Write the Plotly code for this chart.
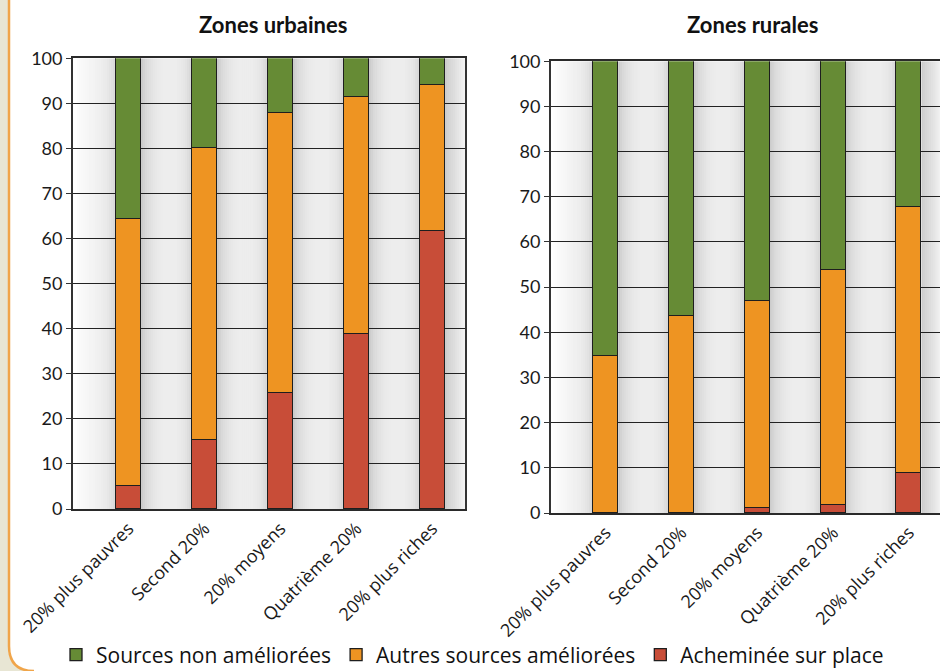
import plotly.graph_objects as go
import math

W, H = 940, 671

categories = ["20% plus pauvres", "Second 20%", "20% moyens", "Quatrième 20%", "20% plus riches"]

# Zones urbaines
urb_piped = [5, 15.3, 25.7, 38.8, 61.7]
urb_other = [59.3, 64.7, 62.2, 52.6, 32.4]
urb_unimproved = [35.7, 20.0, 12.1, 8.6, 5.9]

# Zones rurales
rur_piped = [0, 0, 1.1, 1.7, 8.7]
rur_other = [34.8, 43.6, 45.8, 52.1, 58.9]
rur_unimproved = [65.2, 56.4, 53.1, 46.2, 32.4]

series_names = ["Sources non améliorées", "Autres sources améliorées", "Acheminée sur place"]
y_ticks = [0, 10, 20, 30, 40, 50, 60, 70, 80, 90, 100]

COL_GREEN = "#668b35"
COL_ORANGE = "#ee9422"
COL_RED = "#c84d38"
EDGE = "#1e1e1e"

def X(px):
    return px / W

def Y(py):
    return 1 - py / H

fig = go.Figure()

BAR_W = 0.33
panels = [
    ("x", "y", urb_piped, urb_other, urb_unimproved, True),
    ("x2", "y2", rur_piped, rur_other, rur_unimproved, False),
]
for xa, ya, piped, other, unimp, show in panels:
    for vals, name, col, rank in [(piped, series_names[2], COL_RED, 3),
                                  (other, series_names[1], COL_ORANGE, 2),
                                  (unimp, series_names[0], COL_GREEN, 1)]:
        yv = [v if v else None for v in vals]
        fig.add_trace(go.Bar(
            x=list(range(len(categories))), y=yv, name=name, width=BAR_W,
            marker=dict(color=col, line=dict(color=EDGE, width=1.3)),
            xaxis=xa, yaxis=ya, showlegend=show, legendrank=rank,
            hoverinfo="skip"))

fig.update_layout(barmode="stack")

# axis geometry (pixels)
urb_dom_x = [X(73), X(465)]
urb_dom_y = [Y(509), Y(58.3)]
rur_dom_x = [X(551), 1.0]
rur_dom_y = [Y(513), Y(61.3)]
urb_range = [-0.73, 4.43]
rur_range = [-0.72, 4.41]

ytickfont = dict(family="Lato, 'Open Sans', sans-serif", size=18, color="#1a1a1a")
xtickfont = dict(family="'Open Sans', Lato, sans-serif", size=18, color="#1a1a1a")
common_x = dict(tickmode="array", tickvals=list(range(5)), ticktext=categories,
                tickangle=-45, ticks="", showgrid=False, showline=True, mirror=True,
                linecolor="#2a2a2a", linewidth=2, zeroline=False,
                tickfont=xtickfont, fixedrange=True)
common_y = dict(range=[0, 100], tickvals=y_ticks, ticks="outside", ticklen=5,
                tickcolor="#333333", tickwidth=1.3, showgrid=True,
                gridcolor="#222222", gridwidth=1.4, showline=True, mirror=True,
                linecolor="#333333", linewidth=1.8, zeroline=False,
                tickfont=ytickfont, fixedrange=True)

fig.update_layout(
    xaxis=dict(domain=urb_dom_x, range=urb_range, anchor="y", **common_x),
    yaxis=dict(domain=urb_dom_y, anchor="x", **common_y),
    xaxis2=dict(domain=rur_dom_x, range=rur_range, anchor="y2", **common_x),
    yaxis2=dict(domain=rur_dom_y, anchor="x2", **common_y),
)

# background shading stripes (cylinder-like wall)
shapes = []
def add_stripes(xref, yref, rng, dom):
    px_per_unit = (dom[1] - dom[0]) * W / (rng[1] - rng[0])
    edges = [rng[0]]
    for k in range(5):
        edges += [k - BAR_W / 2, k + BAR_W / 2]
    edges.append(rng[1])
    gaps = [(edges[i], edges[i + 1]) for i in range(0, len(edges), 2)]
    step = 2.0 / px_per_unit
    for gi, (a, b) in enumerate(gaps):
        n = int(math.ceil((b - a) / step))
        for j in range(n):
            x0 = a + j * step
            x1 = min(b, x0 + step)
            pa = (x0 - a) * px_per_unit
            pb = (b - x1) * px_per_unit
            d = 0.0
            if gi > 0:
                d += 0.26 * math.exp(-pa / 12.0)
            if gi < len(gaps) - 1:
                d += 0.2 * math.exp(-pb / 10.0)
            d += 0.04 * math.sin(math.pi * min(1, max(0, (x0 - a) / (b - a))))
            if d < 0.01:
                continue
            shapes.append(dict(type="rect", xref=xref, yref=yref, x0=x0, x1=x1,
                               y0=0, y1=100, line=dict(width=0),
                               fillcolor=f"rgba(60,60,60,{min(d,0.5):.3f})",
                               layer="below"))

add_stripes("x", "y", urb_range, urb_dom_x)
add_stripes("x2", "y2", rur_range, rur_dom_x)

# left decorative border
r = 25
strip = (f"M0,{Y(0)} L{X(8)},{Y(0)} L{X(8)},{Y(H - r)} "
         f"Q{X(8)},{Y(H)} {X(8 + r)},{Y(H)} L0,{Y(H)} Z")
shapes.append(dict(type="path", xref="paper", yref="paper", path=strip,
                   fillcolor="#e8e6d4", line=dict(width=0), layer="below"))
border = (f"M{X(9)},{Y(0)} L{X(9)},{Y(H - r)} Q{X(9)},{Y(H)} {X(9 + r)},{Y(H)}")
shapes.append(dict(type="path", xref="paper", yref="paper", path=border,
                   line=dict(color="#f0a54a", width=2.5), layer="above"))

titlefont = dict(family="Lato, 'Open Sans', sans-serif", size=22, color="#111111")
annotations = [
    dict(text="<b>Zones urbaines</b>", x=X(273), y=Y(25), xref="paper", yref="paper",
         showarrow=False, font=titlefont, xanchor="center", yanchor="middle"),
    dict(text="<b>Zones rurales</b>", x=X(752), y=Y(25), xref="paper", yref="paper",
         showarrow=False, font=titlefont, xanchor="center", yanchor="middle"),
]

fig.update_layout(
    width=W, height=H,
    margin=dict(l=0, r=0, t=0, b=0, autoexpand=False),
    paper_bgcolor="#ffffff",
    plot_bgcolor="#ffffff",
    shapes=shapes,
    annotations=annotations,
    showlegend=True,
    legend=dict(orientation="h", x=X(56), y=Y(655), xanchor="left", yanchor="middle",
                traceorder="normal",
                font=dict(family="'Open Sans', Lato, sans-serif", size=21, color="#111111"),
                bgcolor="rgba(0,0,0,0)", itemclick=False, itemdoubleclick=False),
    bargap=0,
)

fig.write_html("out.html", config={"displayModeBar": False},
               post_script="document.body.style.margin='0';document.body.style.overflow='hidden';")
